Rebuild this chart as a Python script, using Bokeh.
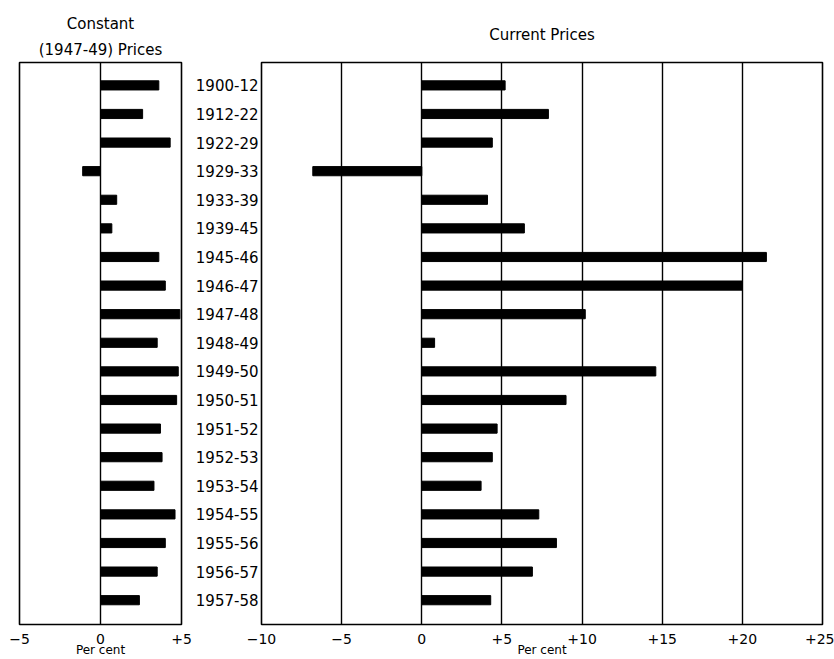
from bokeh.plotting import figure
from bokeh.layouts import row
from bokeh.models import Range1d, FixedTicker, Title
from bokeh.embed import file_html
from bokeh.resources import INLINE

categories = ["1900-12", "1912-22", "1922-29", "1929-33", "1933-39", "1939-45",
              "1945-46", "1946-47", "1947-48", "1948-49", "1949-50", "1950-51",
              "1951-52", "1952-53", "1953-54", "1954-55", "1955-56", "1956-57",
              "1957-58"]
constant_prices = [3.6, 2.6, 4.3, -1.1, 1.0, 0.7, 3.6, 4.0, 4.9, 3.5, 4.8, 4.7,
                   3.7, 3.8, 3.3, 4.6, 4.0, 3.5, 2.4]
current_prices = [5.2, 7.9, 4.4, -6.8, 4.1, 6.4, 21.5, 20.0, 10.2, 0.8, 14.6, 9.0,
                  4.7, 4.4, 3.7, 7.3, 8.4, 6.9, 4.3]
left_ticks = [-5, 0, 5]
left_tick_labels = ["\u22125", "0", "+5"]
right_ticks = [-10, -5, 0, 5, 10, 15, 20, 25]
right_tick_labels = ["\u221210", "\u22125", "0", "+5", "+10", "+15", "+20", "+25"]

FONT = "DejaVu Sans"
ypos = list(range(len(categories)))
H = 659
TOP = 62
BOTTOM = 34


def style(p, ticks, labels):
    p.outline_line_color = "black"
    p.outline_line_width = 1.6
    p.ygrid.visible = False
    p.xgrid.ticker = FixedTicker(ticks=ticks)
    p.xgrid.grid_line_color = "black"
    p.xgrid.grid_line_width = 1.4
    p.xaxis.ticker = FixedTicker(ticks=ticks)
    p.xaxis.major_label_overrides = {t: l for t, l in zip(ticks, labels)}
    p.xaxis.axis_line_color = None
    p.xaxis.major_tick_line_color = None
    p.xaxis.minor_tick_line_color = None
    p.xaxis.major_tick_out = 0
    p.xaxis.major_tick_in = 0
    p.xaxis.minor_tick_out = 0
    p.xaxis.minor_tick_in = 0
    p.xaxis.major_label_standoff = 9
    p.xaxis.major_label_text_font = FONT
    p.xaxis.major_label_text_font_size = "14px"
    p.xaxis.major_label_text_color = "black"
    p.xaxis.axis_label = "Per cent"
    p.xaxis.axis_label_text_font = FONT
    p.xaxis.axis_label_text_font_size = "12px"
    p.xaxis.axis_label_text_font_style = "normal"
    p.xaxis.axis_label_standoff = -4
    p.xaxis.axis_label_text_color = "black"
    p.background_fill_color = "white"
    p.border_fill_color = "white"


def add_title(p, text, standoff):
    p.add_layout(Title(text=text, align="center", text_font=FONT,
                       text_font_size="15px", text_font_style="normal",
                       text_color="black", standoff=standoff), "above")


p1 = figure(width=192, height=H, output_backend="svg", toolbar_location=None,
            x_range=Range1d(-5, 5), y_range=Range1d(18.85, -0.8),
            min_border_left=19, min_border_right=11, min_border_top=TOP,
            min_border_bottom=BOTTOM)
p1.hbar(y=ypos, left=0, right=constant_prices, height=0.32, color="black")
style(p1, left_ticks, left_tick_labels)
p1.yaxis.visible = False
add_title(p1, "(1947-49) Prices", 8)
add_title(p1, "Constant", 4)

p2 = figure(width=642, height=H, output_backend="svg", toolbar_location=None,
            x_range=Range1d(-10, 25), y_range=Range1d(18.85, -0.8),
            min_border_left=68, min_border_right=12, min_border_top=TOP,
            min_border_bottom=BOTTOM)
p2.hbar(y=ypos, left=0, right=current_prices, height=0.32, color="black")
style(p2, right_ticks, right_tick_labels)
p2.yaxis.ticker = FixedTicker(ticks=ypos)
p2.yaxis.major_label_overrides = {i: c for i, c in zip(ypos, categories)}
p2.yaxis.axis_line_color = None
p2.yaxis.major_tick_line_color = None
p2.yaxis.minor_tick_line_color = None
p2.yaxis.major_tick_out = 0
p2.yaxis.major_tick_in = 0
p2.yaxis.minor_tick_out = 0
p2.yaxis.minor_tick_in = 0
p2.yaxis.major_label_standoff = 3
p2.yaxis.major_label_text_font = FONT
p2.yaxis.major_label_text_font_size = "15px"
p2.yaxis.major_label_text_color = "black"
add_title(p2, "Current Prices", 37)

layout = row(p1, p2)
open("out.html", "w").write(file_html(layout, INLINE))
